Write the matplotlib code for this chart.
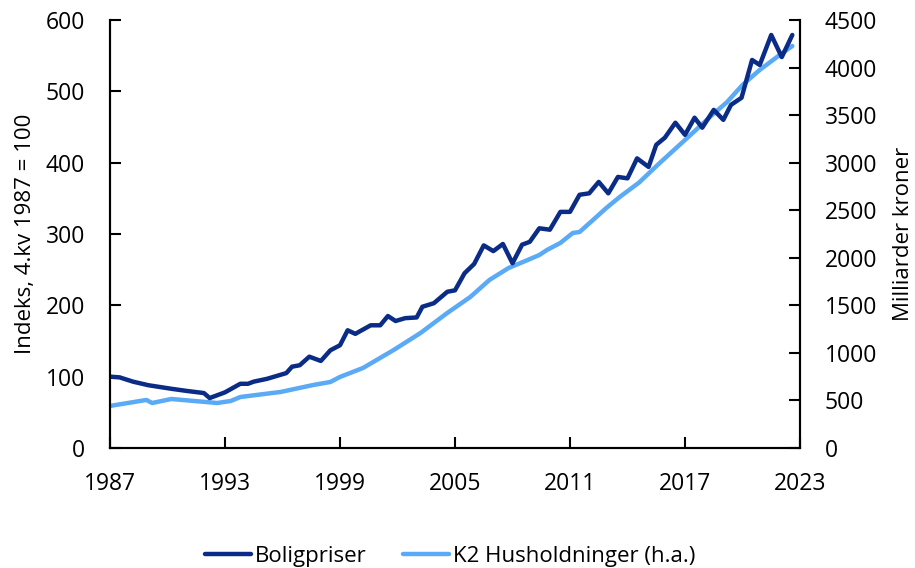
import matplotlib
matplotlib.use("Agg")
import matplotlib.pyplot as plt

plt.rcParams['font.family'] = ['Open Sans', 'DejaVu Sans']

# Boligpriser (index, 4.kv 1987 = 100)
bp_years = [1987.0, 1987.5, 1988.2, 1989.0, 1990.2, 1991.0, 1991.9, 1992.2, 1993.0, 1993.8, 1994.2,
            1994.5, 1995.2, 1996.2, 1996.5, 1996.9, 1997.4, 1998.0, 1998.5, 1999.0, 1999.4,
            1999.8, 2000.6, 2001.1, 2001.5, 2001.9, 2002.4, 2003.0, 2003.3, 2003.9, 2004.6,
            2005.0, 2005.5, 2006.0, 2006.5, 2007.0, 2007.5, 2008.0, 2008.5, 2008.9, 2009.4,
            2009.95, 2010.5, 2011.0, 2011.5, 2012.0, 2012.5, 2013.0, 2013.5, 2014.0, 2014.5,
            2015.1, 2015.5, 2015.95, 2016.5, 2017.0, 2017.5, 2017.9, 2018.5, 2019.0, 2019.4,
            2019.95, 2020.5, 2020.9, 2021.5, 2022.05, 2022.6]
bp_values = [100, 99, 93, 88, 83, 80, 77, 70, 78, 90, 90,
             93, 97, 105, 114, 116, 128, 122, 137, 144, 165,
             160, 172, 172, 185, 178, 182, 183, 198, 203, 219,
             221, 245, 258, 284, 276, 286, 259, 285, 289, 308,
             306, 331, 331, 355, 357, 373, 357, 380, 378, 406,
             394, 425, 435, 456, 439, 463, 449, 474, 460, 481,
             491, 544, 537, 579, 548, 579]

# K2 Husholdninger (milliarder kroner, h.a.)
k2_years = [1987.0, 1988.9, 1989.2, 1990.2, 1992.6, 1993.3, 1993.8, 1995.9, 1997.6, 1998.5,
            1999.0, 2000.2, 2001.8, 2003.2, 2004.6, 2005.8, 2006.8, 2007.8, 2008.8, 2009.4,
            2009.8, 2010.5, 2011.15, 2011.5, 2012.2, 2012.9, 2013.6, 2014.6, 2015.7, 2016.6,
            2017.4, 2018.3, 2019.2, 2020.0, 2020.9, 2021.8, 2022.6]
k2_values = [442, 505, 473, 515, 473, 494, 536, 589, 662, 694,
             747, 841, 1030, 1209, 1420, 1588, 1767, 1893, 1977, 2029,
             2082, 2156, 2261, 2271, 2397, 2524, 2640, 2790, 3000, 3165,
             3312, 3480, 3638, 3817, 3975, 4111, 4227]

x_ticks = [1987, 1993, 1999, 2005, 2011, 2017, 2023]
left_ticks = [0, 100, 200, 300, 400, 500, 600]
right_ticks = [0, 500, 1000, 1500, 2000, 2500, 3000, 3500, 4000, 4500]

dark = '#0a2c86'
light = '#5aaaf6'
tick_fs = 16.5
left_label_fs = 16
right_label_fs = 16
legend_fs = 16

fig = plt.figure(figsize=(9.15, 5.68), dpi=100)
ax = fig.add_axes([0.1202, 0.2113, 0.7541, 0.7535])
ax2 = ax.twinx()

l2, = ax2.plot(k2_years, k2_values, color=light, lw=3.2, solid_capstyle='round',
               solid_joinstyle='round', label='K2 Husholdninger (h.a.)')
l1, = ax.plot(bp_years, bp_values, color=dark, lw=3.2, solid_capstyle='round',
              solid_joinstyle='round', label='Boligpriser')
ax.set_zorder(ax2.get_zorder() + 1)
ax.patch.set_visible(False)

ax.set_xlim(1987, 2023)
ax.set_ylim(0, 600)
ax2.set_ylim(0, 4500)
ax.set_xticks(x_ticks)
ax.set_yticks(left_ticks)
ax2.set_yticks(right_ticks)

for a in (ax, ax2):
    a.tick_params(direction='in', length=8, width=1.5, labelsize=tick_fs, colors='black', pad=18)
    for s in a.spines.values():
        s.set_linewidth(1.5)
    a.spines['top'].set_visible(False)
ax.tick_params(axis='x', pad=17)

ax.set_ylabel('Indeks, 4.kv 1987 = 100', fontsize=left_label_fs, labelpad=7)
ax2.set_ylabel('Milliarder kroner', fontsize=right_label_fs, labelpad=11)

fig.legend([l1, l2], ['Boligpriser', 'K2 Husholdninger (h.a.)'], loc='center',
           bbox_to_anchor=(0.492, 0.02), ncol=2, frameon=False, fontsize=legend_fs,
           handlelength=2.07, handletextpad=0.2, columnspacing=1.6)

fig.savefig('out.png', dpi=100)
